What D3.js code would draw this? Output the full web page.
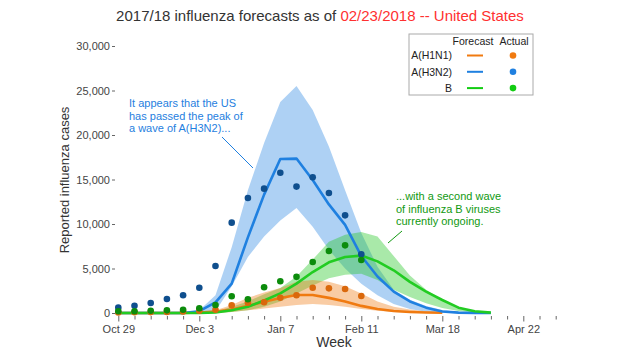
<!DOCTYPE html>
<html>
<head>
<meta charset="utf-8">
<script src="https://cdn.jsdelivr.net/npm/d3@7"></script>
<style>
  body { margin: 0; background: #fff; }
  svg { font-family: "Liberation Sans", Arial, sans-serif; }
</style>
</head>
<body>
<div id="chart"></div>
<script>
// weeks since Oct 29, 2017; labels every 5 weeks
let weekLabels = ["Oct 29", "Dec 3", "Jan 7", "Feb 11", "Mar 18", "Apr 22"];
let nWeeks = 28;
let yTicks = [0, 5000, 10000, 15000, 20000, 25000, 30000];

// observed counts (weeks 0-15)
let h1n1Actual = [50, 80, 100, 120, 180, 250, 370, 860, 1160, 1200, 1720, 1990, 2840, 2770, 2700, 1910];
let h3n2Actual = [600, 820, 1120, 1570, 1990, 2840, 5280, 10150, 12920, 13970, 15760, 14200, 15250, 13480, 10970, 6590];
let bActual    = [200, 200, 250, 300, 370, 530, 900, 1880, 1540, 2890, 3560, 4060, 5730, 6970, 7600, 5950];

// forecasts (median + interval)
let h1n1Fc = [0, 0, 0, 0, 0, 50, 150, 400, 800, 1270, 1680, 2030, 2020, 1700, 1300, 800, 450, 220, 120, 60, 20];
let h1n1Lo = [0, 0, 0, 0, 0, 0, 0, 100, 300, 500, 700, 900, 1000, 900, 700, 450, 250, 100, 50, 20, 0];
let h1n1Hi = [0, 0, 0, 0, 0, 100, 300, 900, 1700, 2300, 2800, 3500, 3700, 3500, 3000, 2200, 1300, 700, 400, 200, 60];

let h3n2Fc = [0, 0, 0, 0, 0, 200, 1200, 3300, 8500, 13300, 17300, 17350, 14940, 12200, 9900, 6400, 4100, 2400, 1300, 600, 170, 40, 10, 0];
let h3n2Lo = [0, 0, 0, 0, 0, 0, 200, 3000, 6300, 8600, 10400, 11800, 9700, 7100, 5000, 3300, 2000, 1000, 450, 150, 50, 0, 0, 0];
let h3n2Hi = [0, 0, 0, 0, 0, 300, 2000, 7400, 13800, 19100, 23700, 25500, 22800, 18700, 13800, 9000, 5200, 2600, 1500, 800, 350, 120, 40, 0];

let bFc = [0, 0, 0, 0, 0, 0, 50, 300, 700, 1400, 2200, 3300, 4600, 5700, 6300, 6450, 5800, 4800, 3500, 2400, 1460, 600, 200, 40];
let bLo = [0, 0, 0, 0, 0, 0, 0, 100, 300, 700, 1300, 2200, 3100, 3900, 4300, 4400, 3700, 2600, 1800, 1100, 550, 220, 70, 0];
let bHi = [0, 0, 0, 0, 0, 0, 200, 700, 1300, 2100, 2800, 4100, 6000, 8000, 8800, 9100, 8600, 6400, 4200, 2600, 1500, 650, 220, 50];

let series = [
    {name: "A(H1N1)", actual: h1n1Actual, fc: h1n1Fc, lo: h1n1Lo, hi: h1n1Hi, line: "#f07a10", band: "rgba(240,122,16,0.38)", dot: "#da680c", key: "#f07a10"},
    {name: "A(H3N2)", actual: h3n2Actual, fc: h3n2Fc, lo: h3n2Lo, hi: h3n2Hi, line: "#1f80e0", band: "rgba(31,128,224,0.36)", dot: "#0f4f8e", key: "#1f80e0"},
    {name: "B",       actual: bActual,    fc: bFc,    lo: bLo,    hi: bHi,    line: "#22cc22", band: "rgba(40,200,40,0.4)",  dot: "#0c8c0c", key: "#11cc11"}
];

let width = 620, height = 350;

let svg = d3.select("#chart").append("svg")
    .attr("width", width)
    .attr("height", height);

let x = d3.scaleLinear().domain([0, nWeeks - 1]).range([118.3, 555.7]);
let y = d3.scaleLinear().domain([0, 30000]).range([313, 46]);

// title
let title = svg.append("text")
    .attr("x", 320).attr("y", 21)
    .attr("text-anchor", "middle")
    .style("font-size", "15px");
title.append("tspan").attr("fill", "#333").text("2017/18 influenza forecasts as of ");
title.append("tspan").attr("fill", "#ff3030").text("02/23/2018 -- United States");

// axes
let yAx = d3.axisLeft(y).tickValues(yTicks).tickFormat(d3.format(",")).tickSize(3).tickPadding(2);
let yG = svg.append("g").attr("transform", "translate(115,0)").call(yAx);
yG.select(".domain").remove();
yG.selectAll("text").style("font-size", "11px").attr("fill", "#444");
yG.selectAll("line").attr("stroke", "#666");

let xAx = d3.axisBottom(x).tickValues(d3.range(nWeeks))
    .tickFormat(d => d % 5 === 0 ? weekLabels[d / 5] : "")
    .tickSize(4).tickPadding(5);
let xG = svg.append("g").attr("transform", "translate(0,316)").call(xAx);
xG.select(".domain").remove();
xG.selectAll("text").style("font-size", "11px").attr("fill", "#444");
xG.selectAll("line").attr("stroke", "#666")
    .attr("y2", d => d % 5 === 0 ? 5.5 : 3.5);

svg.append("text")
    .attr("transform", "translate(69,180) rotate(-90)")
    .attr("text-anchor", "middle")
    .attr("fill", "#333")
    .style("font-size", "13px")
    .text("Reported influenza cases");

svg.append("text")
    .attr("x", 334).attr("y", 347)
    .attr("text-anchor", "middle")
    .attr("fill", "#333")
    .style("font-size", "14px")
    .text("Week");

// bands
let area = d3.area()
    .x((d, i) => x(i))
    .y0(d => y(d[0]))
    .y1(d => y(d[1]));

[1, 2, 0].forEach(k => {
    let s = series[k];
    svg.append("path")
        .datum(s.lo.map((v, i) => [v, s.hi[i]]))
        .attr("d", area)
        .attr("fill", s.band);
});

let line = d3.line()
    .x((d, i) => x(i))
    .y(d => y(d));

series.forEach(s => {
    svg.append("path")
        .datum(s.fc)
        .attr("d", line)
        .attr("fill", "none")
        .attr("stroke", s.line)
        .attr("stroke-width", 2.6)
        .attr("stroke-linejoin", "round");
});

// actual points
[1, 0, 2].forEach(k => {
    let s = series[k];
    svg.append("g").selectAll("circle")
        .data(s.actual)
        .enter().append("circle")
        .attr("cx", (d, i) => x(i))
        .attr("cy", d => y(d))
        .attr("r", 3.3)
        .attr("fill", s.dot);
});

// legend
let lg = svg.append("g").attr("transform", "translate(409,34)");
lg.append("rect").attr("width", 124).attr("height", 61)
    .attr("fill", "#fff").attr("stroke", "#aaa");
lg.append("text").attr("x", 64).attr("y", 10.5).attr("text-anchor", "middle")
    .style("font-size", "10.5px").attr("fill", "#222").text("Forecast");
lg.append("text").attr("x", 105).attr("y", 10.5).attr("text-anchor", "middle")
    .style("font-size", "10.5px").attr("fill", "#222").text("Actual");
series.forEach((s, i) => {
    let ry = 21.5 + i * 16.3;
    lg.append("text").attr("x", 43).attr("y", ry + 3.8).attr("text-anchor", "end")
        .style("font-size", "10.5px").attr("fill", "#222").text(s.name);
    lg.append("line").attr("x1", 58).attr("x2", 74).attr("y1", ry).attr("y2", ry)
        .attr("stroke", s.key).attr("stroke-width", 2);
    lg.append("circle").attr("cx", 104).attr("cy", ry).attr("r", 3.3).attr("fill", s.key);
});

// annotations
let blueNote = ["It appears that the US", "has passed the peak of", "a wave of A(H3N2)..."];
svg.append("g").selectAll("text").data(blueNote).enter().append("text")
    .attr("x", 129).attr("y", (d, i) => 107 + i * 12.6)
    .attr("fill", "#1f80e0").style("font-size", "11px").text(d => d);
svg.append("line").attr("x1", 222).attr("y1", 137).attr("x2", 253).attr("y2", 168)
    .attr("stroke", "#1f80e0").attr("stroke-width", 1);

let greenNote = ["...with a second wave", "of influenza B viruses", "currently ongoing."];
svg.append("g").selectAll("text").data(greenNote).enter().append("text")
    .attr("x", 396).attr("y", (d, i) => 200 + i * 12.6)
    .attr("fill", "#119911").style("font-size", "11px").text(d => d);
svg.append("line").attr("x1", 402).attr("y1", 231).attr("x2", 388).attr("y2", 243)
    .attr("stroke", "#119911").attr("stroke-width", 1);
</script>
</body>
</html>
